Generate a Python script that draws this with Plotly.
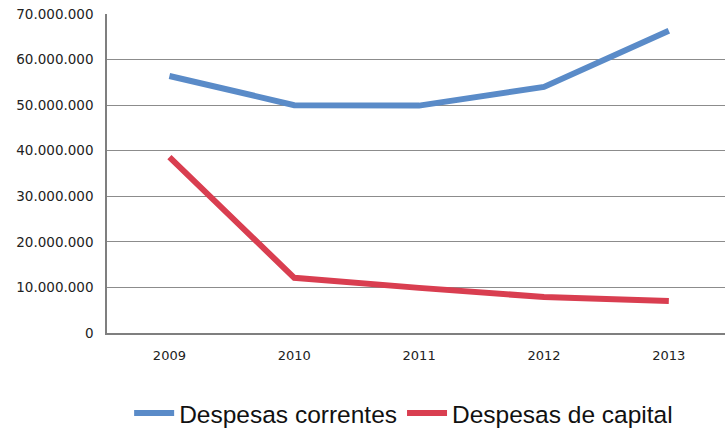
import plotly.graph_objects as go

years = ["2009", "2010", "2011", "2012", "2013"]
despesas_correntes = [56_400_000, 50_000_000, 49_900_000, 54_000_000, 66_300_000]
despesas_capital = [38_600_000, 12_100_000, 9_900_000, 7_900_000, 7_000_000]
y_ticks = [0, 10_000_000, 20_000_000, 30_000_000, 40_000_000, 50_000_000, 60_000_000, 70_000_000]

fig = go.Figure()
fig.add_trace(go.Scatter(
    x=years, y=despesas_correntes, mode="lines", name="Despesas correntes",
    line=dict(color="#5A8BC8", width=6),
))
fig.add_trace(go.Scatter(
    x=years, y=despesas_capital, mode="lines", name="Despesas de capital",
    line=dict(color="#D93E50", width=6),
))

fig.update_layout(
    width=725, height=428,
    margin=dict(l=107, r=0, t=14, b=95, autoexpand=False),
    paper_bgcolor="white", plot_bgcolor="white",
    separators=",.",
    font=dict(family="DejaVu Sans", color="#222222"),
    showlegend=True,
    legend=dict(
        orientation="h", x=0.48, xanchor="center",
        yref="container", y=0.035, yanchor="middle",
        font=dict(family="Liberation Sans, Arial", size=24.5, color="#111111"),
        itemwidth=40, tracegroupgap=0,
    ),
)
fig.update_xaxes(
    type="category", range=[-0.5, 4.45],
    showgrid=False, showline=True, linecolor="#7f7f7f", linewidth=1.5,
    ticks="", tickfont=dict(size=13, family="DejaVu Sans"),
    ticklabelstandoff=10,
)
fig.update_yaxes(
    range=[0, 70_000_000], tickvals=y_ticks, tickformat=",d",
    showgrid=True, gridcolor="#8c8c8c", gridwidth=1,
    showline=True, linecolor="#7f7f7f", linewidth=1.5,
    zeroline=False, ticks="", tickfont=dict(size=13.5, family="DejaVu Sans"),
    ticklabelstandoff=9,
)

fig.write_html("out.html")
